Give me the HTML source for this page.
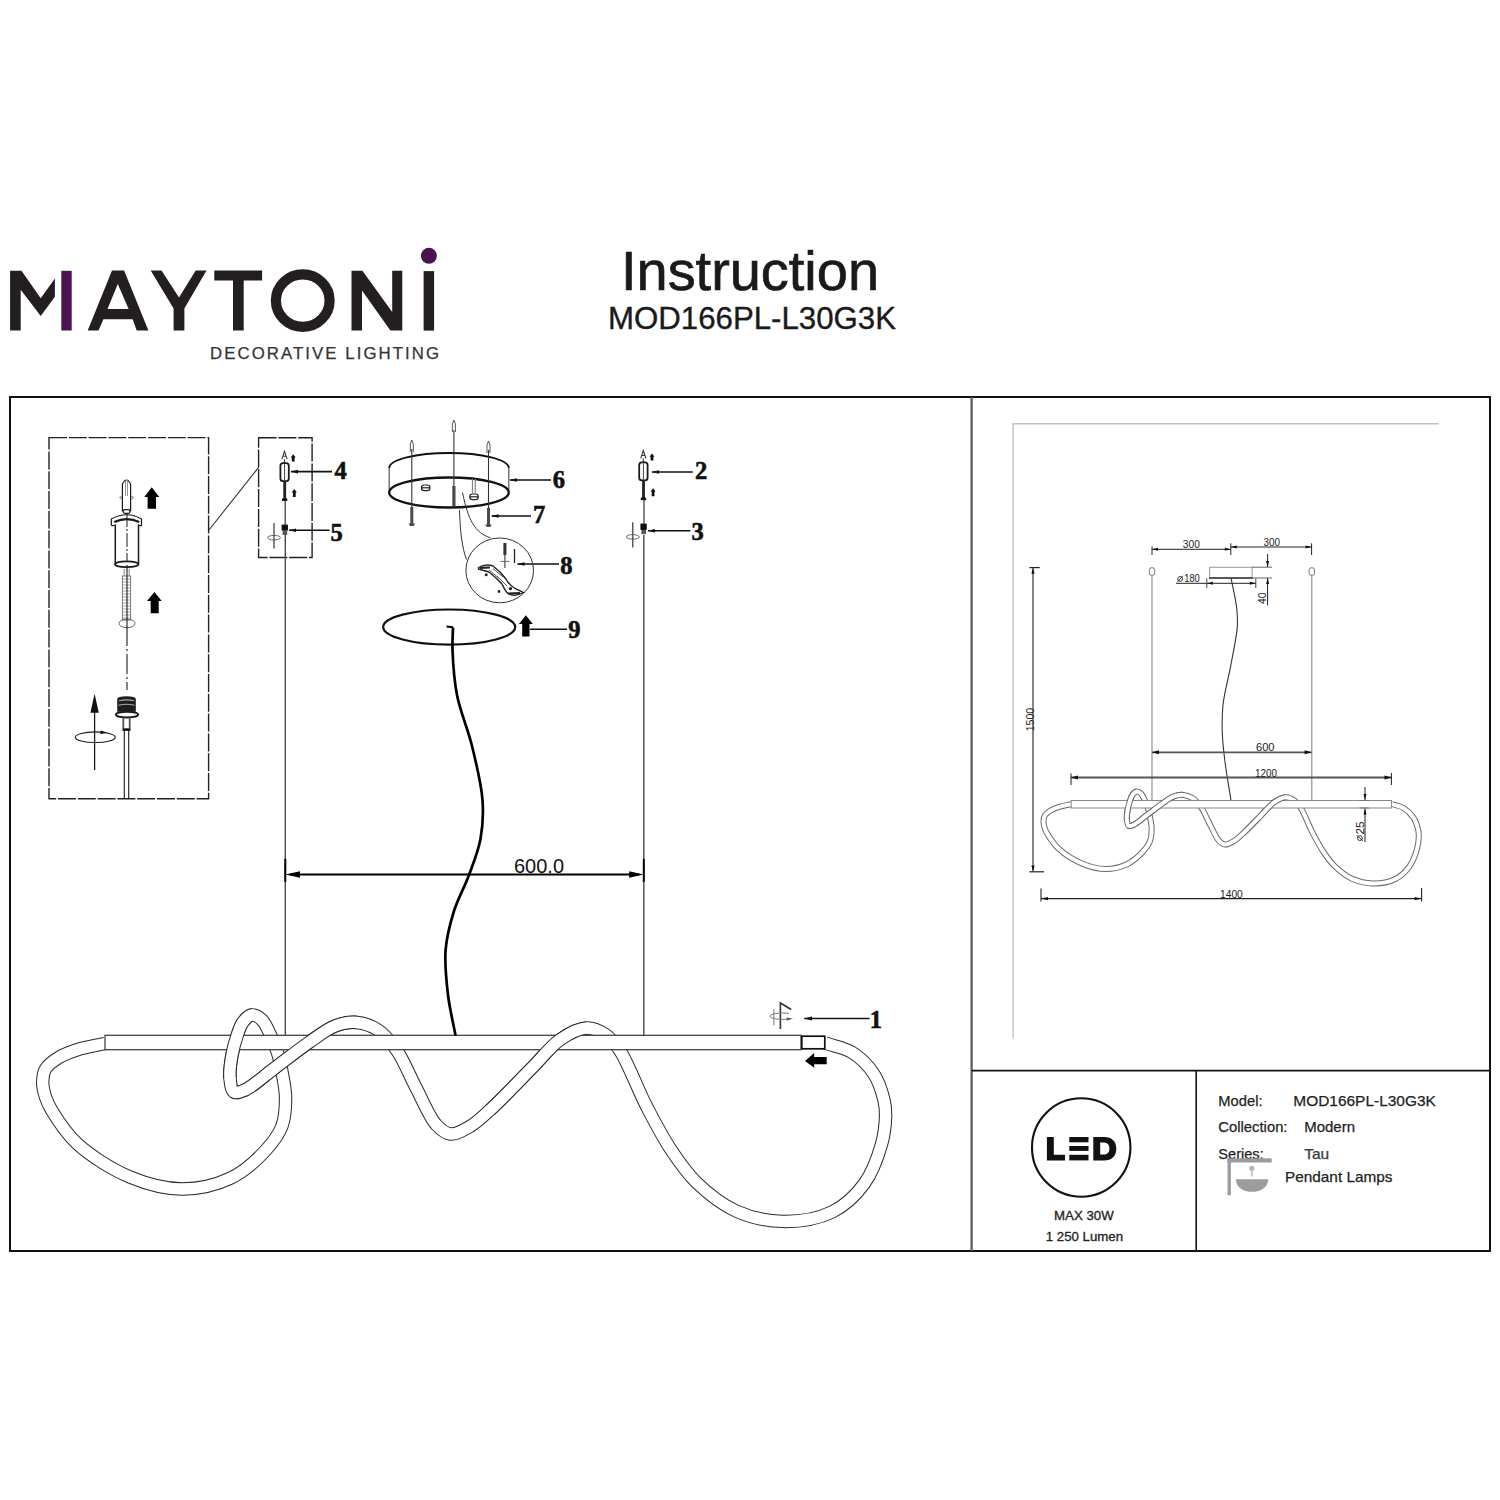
<!DOCTYPE html>
<html><head><meta charset="utf-8"><title>Maytoni MOD166PL-L30G3K Instruction</title>
<style>
html,body{margin:0;padding:0;background:#fff;width:1500px;height:1500px;overflow:hidden}
svg{display:block;position:absolute;left:0;top:0}
text{font-family:"Liberation Sans",sans-serif}
.ser,.ser text{font-family:"Liberation Serif",serif;font-weight:bold}
</style></head>
<body>
<svg width="1500" height="1500" viewBox="0 0 1500 1500">
<defs>
<path id="upArrow" d="M0 -10 L7 -2 L3.5 -2 L3.5 10 L-3.5 10 L-3.5 -2 L-7 -2 Z"/>
</defs>

<!-- ============ HEADER / LOGO ============ -->
<g fill="#231f20">
<polygon points="10.1,270.8 21.5,270.8 40.7,298.3 54.9,278.5 54.9,296.7 40.7,315.9 20.7,289.7 20.7,330.5 10.1,330.5"/>
<polygon points="87.7,330.4 112,270.6 124.1,270.6 148.4,330.4 136.7,330.4 132.7,319.2 103.4,319.2 98.5,330.4"/>
<polygon points="150.7,270.6 161.5,270.6 179,297.6 195.7,270.6 206.5,270.6 184.4,308.4 184.4,330.4 173.6,330.4 173.6,308.4"/>
<polygon points="214.3,270.4 262.1,270.4 262.1,280.5 243.7,280.5 243.7,330.6 233,330.6 233,280.5 214.3,280.5"/>
<polygon points="351.5,270.8 362.4,270.8 392.2,312.1 392.2,270.8 402.3,270.8 402.3,330.6 390.4,330.6 362,290.4 362,330.6 351.5,330.6"/>
<rect x="423.6" y="271.1" width="10.5" height="59.5"/>
</g>
<polygon points="117.8,284 107.5,309 128.6,309" fill="#fff"/>
<ellipse cx="302.75" cy="300.6" rx="26.85" ry="26.2" fill="none" stroke="#231f20" stroke-width="10.2"/>
<rect x="61.3" y="270.8" width="10.4" height="59.7" fill="#4b1450"/>
<circle cx="428.9" cy="255.8" r="8" fill="#4b1450"/>
<text x="210" y="359" font-size="16.8" fill="#333" stroke="#333" stroke-width="0.25" textLength="229" lengthAdjust="spacing">DECORATIVE LIGHTING</text>

<text x="621" y="290" font-size="56" fill="#1a1a1a" stroke="#1a1a1a" stroke-width="0.7" textLength="258" lengthAdjust="spacingAndGlyphs">Instruction</text>
<text x="608" y="329" font-size="31.5" fill="#1a1a1a" stroke="#1a1a1a" stroke-width="0.35" textLength="288" lengthAdjust="spacingAndGlyphs">MOD166PL-L30G3K</text>

<!-- ============ FRAME ============ -->
<rect x="10" y="397" width="1480" height="854" fill="none" stroke="#111" stroke-width="2"/>
<line x1="971.6" y1="397" x2="971.6" y2="1251" stroke="#555" stroke-width="2.2"/>
<line x1="972" y1="1070.6" x2="1490" y2="1070.6" stroke="#111" stroke-width="1.6"/>
<line x1="1196.2" y1="1070.6" x2="1196.2" y2="1251" stroke="#111" stroke-width="1.6"/>
<polyline points="1013.1,1038.5 1013.1,423.8 1439,423.8" fill="none" stroke="#c2c2c2" stroke-width="1.4"/>


<!-- ============ LEFT PANEL ASSEMBLY ============ -->
<g fill="none" stroke="#222" stroke-width="1.4" stroke-dasharray="18 1.8">
<rect x="49" y="437.6" width="159.6" height="361.2"/>
<rect x="258.6" y="437.7" width="53.5" height="119.8"/>
</g>
<line x1="208.6" y1="530.5" x2="258.6" y2="467.3" stroke="#333" stroke-width="1.1"/>

<!-- anchor detail -->
<g fill="none" stroke="#1a1a1a" stroke-width="1.2">
<path d="M122.4 511.5 L122.4 484 Q126.5 476 130.6 484 L130.6 511.5"/>
<path d="M122.4 495.5 L119.6 497.5 L122.4 499.5 M130.6 495.5 L133.6 497.5 L130.6 499.5" stroke="#666" stroke-width="0.9"/>
<path d="M125.5 481 L125.5 496 M127.5 480 L127.5 496" stroke="#888" stroke-width="0.9"/>
<rect x="123.3" y="509.7" width="6.6" height="3.6" rx="1.5"/>
<path d="M111.3 525.5 L111.3 519 Q127 510.5 141.5 519 L141.5 525.5 Q140 526 138.3 525"/>
<path d="M111.3 525.5 Q113 526 114.7 525"/>
<path d="M114.3 522 Q127 516.2 139.2 522" stroke-width="2.2"/>
<path d="M115.3 524.5 L115.3 564.5 M138.5 524.5 L138.5 564.5" stroke-width="1.5"/>
<ellipse cx="126.7" cy="564.3" rx="11.7" ry="2.9" stroke-width="1.8"/>
<path d="M127 513 L127 562" stroke-width="1" stroke-dasharray="14 2 2 2"/>
<path d="M124.2 569 L124.2 576 M129.2 569 L129.2 576" stroke="#777" stroke-width="0.9"/>
<rect x="122.4" y="576" width="8.2" height="44" stroke="#777" stroke-width="1"/>
<path d="M122.4 579h8.2M122.4 582h8.2M122.4 585h8.2M122.4 588h8.2M122.4 591h8.2M122.4 594h8.2M122.4 597h8.2M122.4 600h8.2M122.4 603h8.2M122.4 606h8.2M122.4 609h8.2M122.4 612h8.2M122.4 615h8.2M122.4 618h8.2" stroke="#999" stroke-width="0.9"/>
<ellipse cx="127" cy="623.4" rx="8" ry="4.3" stroke="#666" stroke-width="1"/>
<path d="M127 565 L127 626" stroke-width="1.1"/>
<path d="M127 626 L127 690" stroke-width="1.1" stroke-dasharray="20 3 2 3"/>
<!-- connector -->
<path d="M117.2 711.7 L117.2 699 Q117.5 696.3 126.5 696.3 Q135.5 696.3 135.8 699 L135.8 711.7 Z" fill="#1e1e1e" stroke="none"/>
<path d="M119 700.8 Q126.5 699 134 700.8 M118.5 705.2 Q126.5 703.4 134.5 705.2" stroke="#aaa" stroke-width="1.1"/>
<ellipse cx="127" cy="714.6" rx="11.2" ry="2.9" fill="#fff" stroke-width="1.9"/>
<path d="M123.3 717.5 L123.3 728.5 M129.7 717.5 L129.7 728.5" stroke="#555" stroke-width="1.8"/>
<rect x="122.5" y="728.3" width="8" height="2.6" fill="#111" stroke="none"/>
<path d="M124.3 731 L124.3 799 M128.7 731 L128.7 799" stroke-width="1.1"/>
<!-- rotate arrow -->
<path d="M94.6 712 L94.6 770" stroke-width="1.3"/>
<path d="M94.6 693.8 L98.8 712.7 L90.4 712.7 Z" fill="#111" stroke="none"/>
<ellipse cx="95.3" cy="737.2" rx="20" ry="5.3" stroke-width="1.1"/>
<path d="M100.5 730.4 L107 732.4 L100.5 734.2 Z" fill="#111" stroke="none"/>
</g>
<g fill="#000">
<path d="M151.8 487.3 L159.3 497 L156 497 L156 508.7 L147.6 508.7 L147.6 497 L144.3 497 Z"/>
<path d="M154.4 592 L161.7 601 L158.7 601 L158.7 613.3 L150.7 613.3 L150.7 601 L147 601 Z"/>
</g>


<!-- ============ HANGING KITS 2/3 and 4/5 ============ -->
<g id="kit45">
<path d="M281.9 459.2 L284.5 451.3 L287.1 459.2 M282.9 456.3 L286.1 456.3 M284.5 459.2 L284.5 463" fill="none" stroke="#333" stroke-width="1.1"/>
<rect x="280.4" y="463.2" width="8.4" height="18" rx="2.6" fill="#fff" stroke="#1a1a1a" stroke-width="1.8"/>
<line x1="284.6" y1="464" x2="284.6" y2="481" stroke="#444" stroke-width="1"/>
<rect x="283.3" y="481" width="2.8" height="18" fill="#222"/>
<rect x="282" y="498.4" width="5.3" height="2.6" fill="#111"/>
<line x1="285.2" y1="500" x2="285.2" y2="524.5" stroke="#333" stroke-width="1.2"/>
<rect x="281.6" y="524.4" width="6.4" height="6.4" rx="1" fill="#111"/>
<rect x="282.6" y="530.8" width="4.6" height="4.2" fill="#555"/>
<path d="M293.2 454.2 L295.7 457.6 L294.6 457.6 L294.6 461.4 L291.8 461.4 L291.8 457.6 L290.7 457.6 Z M294.3 489 L296.8 492.4 L295.7 492.4 L295.7 497 L292.9 497 L292.9 492.4 L291.8 492.4 Z" fill="#111"/>
<line x1="274" y1="523" x2="274" y2="548.4" stroke="#222" stroke-width="1.1"/>
<ellipse cx="274" cy="537.7" rx="6.4" ry="2.3" fill="none" stroke="#555" stroke-width="0.9"/>
</g>
<use href="#kit45" transform="translate(358.8 -0.8)"/>

<g stroke="#111" stroke-width="1.6">
<line x1="291" y1="471.6" x2="332" y2="471.6"/>
<line x1="289" y1="530.3" x2="329.6" y2="530.3"/>
<line x1="652" y1="472" x2="692.8" y2="472"/>
<line x1="648" y1="530.8" x2="690.4" y2="530.8"/>
<line x1="510" y1="480" x2="551" y2="480"/>
<line x1="491.7" y1="516" x2="531" y2="516"/>
<line x1="517.4" y1="564" x2="559" y2="564"/>
<line x1="530" y1="629.3" x2="567" y2="629.3"/>
<line x1="804.2" y1="1018.4" x2="869.6" y2="1018.4" stroke-width="1.5"/>
</g>
<g fill="#111">
<path d="M290.5 471.6 L298 469.8 L298 473.4 Z"/>
<path d="M288.5 530.3 L296 528.5 L296 532.1 Z"/>
<path d="M651.5 472 L659 470.2 L659 473.8 Z"/>
<path d="M647.5 530.8 L655 529 L655 532.6 Z"/>
<path d="M509.5 480 L517 478.2 L517 481.8 Z"/>
<path d="M491.2 516 L498.7 514.2 L498.7 517.8 Z"/>
<path d="M517 564 L524.5 562.2 L524.5 565.8 Z"/>
<path d="M804 1018.4 L812 1016.4 L812 1020.4 Z"/>
</g>
<g class="ser" font-size="24.5" fill="#111" stroke="#111" stroke-width="0.6">
<text x="334.5" y="479">4</text>
<text x="330.5" y="541">5</text>
<text x="695" y="479.2">2</text>
<text x="691.5" y="539.6">3</text>
<text x="552.8" y="487.7">6</text>
<text x="533" y="523">7</text>
<text x="560.2" y="573.5">8</text>
<text x="568.2" y="638">9</text>
<text x="869.8" y="1027.6">1</text>
</g>

<!-- ============ CANOPY 6/7/8 ============ -->
<g fill="none" stroke="#111" stroke-width="2">
<path d="M389.2 468 A59.8 15 0 0 1 508.8 468" stroke-width="1.9"/>
<path d="M389.2 468 L389.2 492.5 M508.8 468 L508.8 492.5" stroke="#555" stroke-width="1.2"/>
<ellipse cx="449" cy="492.5" rx="59.8" ry="15" stroke-width="2.3"/>
</g>
<g fill="none" stroke="#333" stroke-width="1.1">
<line x1="411.8" y1="449" x2="411.8" y2="507"/>
<line x1="453.9" y1="430" x2="453.9" y2="488"/>
<line x1="488.5" y1="450" x2="488.5" y2="508"/>
<path d="M410.3 452 L410.3 444 L411.8 440 L413.3 444 L413.3 452 M452.4 432 L452.4 424 L453.9 420 L455.4 424 L455.4 432 M487 453 L487 445 L488.5 441 L490 445 L490 453" stroke="#444" stroke-width="0.9"/>
</g>
<g fill="#4a4a4a">
<rect x="410.3" y="507" width="3" height="17"/>
<rect x="487" y="508" width="3" height="17"/>
<rect x="452.3" y="486" width="3.2" height="20"/>
<path d="M408.5 523.5 h6.6 l-1.5 2.5 h-3.6 Z M485.2 524.5 h6.6 l-1.5 2.5 h-3.6 Z"/>
</g>
<g fill="#fff" stroke="#222" stroke-width="1.2">
<rect x="421.5" y="485" width="8.4" height="5.6" rx="2.6"/>
<line x1="421.5" y1="487.8" x2="429.9" y2="487.8"/>
<rect x="469.8" y="494" width="8.4" height="5.6" rx="2.6"/>
<line x1="469.8" y1="496.8" x2="478.2" y2="496.8"/>
<line x1="472.5" y1="479" x2="472.5" y2="494" stroke="#888"/>
<line x1="475.3" y1="479" x2="475.3" y2="494" stroke="#888"/>
</g>
<g fill="none" stroke="#333" stroke-width="1">
<path d="M462.5 492.5 C468 520 475 533 490.5 537.8"/>
<path d="M459.5 510 C460 530 462 548 466.5 559.5"/>
<ellipse cx="499.7" cy="570.4" rx="33.8" ry="32.4"/>
</g>
<!-- clip detail in circle 8 -->
<g fill="none" stroke="#222" stroke-width="1.2">
<rect x="503.4" y="543" width="3" height="12" fill="#333" stroke="none"/>
<path d="M504.9 555 L504.9 568" stroke="#555" stroke-width="1.3"/>
<path d="M500.5 561.4 L509.2 561.4" stroke="#666" stroke-width="1"/>
<path d="M514.5 549 L514.5 563" stroke-width="1.3"/>
<path d="M478.5 567.5 C483 565 489 564.5 493 566 L500 572 L506 579 C508 583 511 586 515 588.5 L523.5 592.5 C518 595.5 512 595.8 508 593.5 C505 591 503.5 587 502 584 L496 578 L489 572 C485 570.5 481 570 478.5 569 Z" stroke-width="1.4"/>
<path d="M480 567.8 L490 567.5" stroke-width="2.2"/>
<path d="M489 570 L500 579 M493 568.5 L503 577 M497 576 L507 586" stroke="#555" stroke-width="1"/>
<path d="M508 593.5 L520 593" stroke-width="2"/>
<circle cx="510.5" cy="588.6" r="1" fill="#222"/>
<circle cx="499" cy="591.5" r="0.8" fill="#222"/>
<circle cx="486.2" cy="574.8" r="0.9" fill="#222"/>
</g>
<!-- ============ RING 9 ============ -->
<ellipse cx="449.2" cy="627.1" rx="66" ry="17.6" fill="none" stroke="#111" stroke-width="2.2"/>
<path d="M525.9 615.3 L532.8 624 L529.5 624 L529.5 636.6 L522.2 636.6 L522.2 624 L518.9 624 Z" fill="#000"/>

<!-- ============ MAIN LAMP ============ -->
<g fill="none">
<path d="M105 1043.5C96 1045.5 86.2 1046.9 78 1049.5C70.7 1051.8 63.7 1054.4 58 1058C53.1 1061.1 48 1064.7 45.5 1069C43.2 1072.8 42.8 1077.5 42.7 1082C42.6 1086.8 44 1092.3 45.5 1097C47 1101.6 48.4 1104.9 51.5 1110C56.8 1118.8 65.8 1133.2 77 1143.5C90.7 1156 111.8 1169.4 130 1177C146.8 1184 165 1188.9 182 1189C198.3 1189.1 215.9 1185 230 1178.4C243.4 1172.1 256 1160.7 265 1151C272.5 1143 278.6 1135 282 1126C285.3 1117.3 285.6 1107.2 285.6 1098C285.6 1089.2 283.5 1080 282 1072C280.7 1065.1 279.6 1059.3 277.6 1053C275.6 1046.6 272.8 1039.8 270 1034C267.5 1028.9 265.4 1023.2 262 1020C259.2 1017.3 255.2 1014.7 252 1015C248.8 1015.3 245.4 1018.9 243 1022C240.2 1025.6 238.8 1030.9 237 1036C235 1041.8 233.2 1048.3 232 1055C230.7 1062.2 229.4 1071.3 230 1078C230.5 1083.3 231.1 1090.2 234 1092C236.5 1093.6 240.7 1091.8 245 1090" stroke="#2a2a2a" stroke-width="13.4"/><path d="M105 1043.5C96 1045.5 86.2 1046.9 78 1049.5C70.7 1051.8 63.7 1054.4 58 1058C53.1 1061.1 48 1064.7 45.5 1069C43.2 1072.8 42.8 1077.5 42.7 1082C42.6 1086.8 44 1092.3 45.5 1097C47 1101.6 48.4 1104.9 51.5 1110C56.8 1118.8 65.8 1133.2 77 1143.5C90.7 1156 111.8 1169.4 130 1177C146.8 1184 165 1188.9 182 1189C198.3 1189.1 215.9 1185 230 1178.4C243.4 1172.1 256 1160.7 265 1151C272.5 1143 278.6 1135 282 1126C285.3 1117.3 285.6 1107.2 285.6 1098C285.6 1089.2 283.5 1080 282 1072C280.7 1065.1 279.6 1059.3 277.6 1053C275.6 1046.6 272.8 1039.8 270 1034C267.5 1028.9 265.4 1023.2 262 1020C259.2 1017.3 255.2 1014.7 252 1015C248.8 1015.3 245.4 1018.9 243 1022C240.2 1025.6 238.8 1030.9 237 1036C235 1041.8 233.2 1048.3 232 1055C230.7 1062.2 229.4 1071.3 230 1078C230.5 1083.3 231.1 1090.2 234 1092C236.5 1093.6 240.7 1091.8 245 1090" stroke="#fff" stroke-width="11.4" stroke-linecap="round"/><path d="M245 1090C252.7 1086.7 263.9 1076.1 274 1068.6C285.1 1060.3 298.1 1049.9 309 1042.4C318.2 1036.1 326.4 1029.3 335 1026C342.4 1023.2 349.8 1021.8 357 1022.5C364.2 1023.2 371.6 1025.8 378 1030C385.1 1034.7 391.1 1042.3 397 1050.7C404.2 1061.1 409.9 1076.2 416.5 1088.7C423 1101 429.4 1117.4 436.5 1125C441 1129.8 445.3 1133.5 450.5 1134C456.3 1134.6 463.7 1130.1 470 1126.4C477 1122.3 482.3 1117 490 1110C501.9 1099.2 520.6 1079.3 533.3 1066.5C543.3 1056.5 550.4 1046.2 560 1039.7C568.5 1033.9 578.7 1028.2 587 1028C593.8 1027.8 600.5 1031.3 606 1035C611.6 1038.8 615.1 1043.4 620 1050.7C628.3 1063.2 637.7 1089.4 646.7 1106.7C654.7 1122 662.1 1136.3 670.7 1149.3C678.6 1161.2 685.8 1172.1 696 1182C707.2 1192.8 721.4 1204.4 736 1211C750.3 1217.4 766.6 1221.1 782.4 1221.4C798.6 1221.7 818 1218.8 832 1212C844.8 1205.8 855.8 1195.2 864 1184C872.4 1172.6 878.1 1156.4 881.6 1144C884.4 1134 885.4 1124 885.6 1116C885.7 1109.9 885.4 1105.9 884 1100C882.1 1092.2 878.8 1081.4 873.6 1073.6C868.2 1065.5 860.2 1057.5 852 1052.4C844 1047.4 834 1046.1 825 1043" stroke="#2a2a2a" stroke-width="13.4"/><path d="M245 1090C252.7 1086.7 263.9 1076.1 274 1068.6C285.1 1060.3 298.1 1049.9 309 1042.4C318.2 1036.1 326.4 1029.3 335 1026C342.4 1023.2 349.8 1021.8 357 1022.5C364.2 1023.2 371.6 1025.8 378 1030C385.1 1034.7 391.1 1042.3 397 1050.7C404.2 1061.1 409.9 1076.2 416.5 1088.7C423 1101 429.4 1117.4 436.5 1125C441 1129.8 445.3 1133.5 450.5 1134C456.3 1134.6 463.7 1130.1 470 1126.4C477 1122.3 482.3 1117 490 1110C501.9 1099.2 520.6 1079.3 533.3 1066.5C543.3 1056.5 550.4 1046.2 560 1039.7C568.5 1033.9 578.7 1028.2 587 1028C593.8 1027.8 600.5 1031.3 606 1035C611.6 1038.8 615.1 1043.4 620 1050.7C628.3 1063.2 637.7 1089.4 646.7 1106.7C654.7 1122 662.1 1136.3 670.7 1149.3C678.6 1161.2 685.8 1172.1 696 1182C707.2 1192.8 721.4 1204.4 736 1211C750.3 1217.4 766.6 1221.1 782.4 1221.4C798.6 1221.7 818 1218.8 832 1212C844.8 1205.8 855.8 1195.2 864 1184C872.4 1172.6 878.1 1156.4 881.6 1144C884.4 1134 885.4 1124 885.6 1116C885.7 1109.9 885.4 1105.9 884 1100C882.1 1092.2 878.8 1081.4 873.6 1073.6C868.2 1065.5 860.2 1057.5 852 1052.4C844 1047.4 834 1046.1 825 1043" stroke="#fff" stroke-width="11.4" stroke-linecap="round"/><rect x="105" y="1035.3" width="696" height="14.4" fill="#fff" stroke="#444" stroke-width="1.3"/><path d="M252 1015C248.8 1015.3 245.4 1018.9 243 1022C240.2 1025.6 238.8 1030.9 237 1036C235 1041.8 233.2 1048.3 232 1055C230.7 1062.2 229.4 1071.3 230 1078" stroke="#2a2a2a" stroke-width="13.4"/><path d="M252 1015C248.8 1015.3 245.4 1018.9 243 1022C240.2 1025.6 238.8 1030.9 237 1036C235 1041.8 233.2 1048.3 232 1055C230.7 1062.2 229.4 1071.3 230 1078" stroke="#fff" stroke-width="11.4" stroke-linecap="round"/><path d="M234 1092C236.5 1093.6 240.7 1091.8 245 1090C252.7 1086.7 263.9 1076.1 274 1068.6C285.1 1060.3 298.1 1049.9 309 1042.4C318.2 1036.1 326.4 1029.3 335 1026C342.4 1023.2 349.8 1021.8 357 1022.5" stroke="#2a2a2a" stroke-width="13.4"/><path d="M234 1092C236.5 1093.6 240.7 1091.8 245 1090C252.7 1086.7 263.9 1076.1 274 1068.6C285.1 1060.3 298.1 1049.9 309 1042.4C318.2 1036.1 326.4 1029.3 335 1026C342.4 1023.2 349.8 1021.8 357 1022.5" stroke="#fff" stroke-width="11.4" stroke-linecap="round"/><path d="M490 1110C501.9 1099.2 520.6 1079.3 533.3 1066.5C543.3 1056.5 550.4 1046.2 560 1039.7C568.5 1033.9 578.7 1028.2 587 1028" stroke="#2a2a2a" stroke-width="13.4"/><path d="M490 1110C501.9 1099.2 520.6 1079.3 533.3 1066.5C543.3 1056.5 550.4 1046.2 560 1039.7C568.5 1033.9 578.7 1028.2 587 1028" stroke="#fff" stroke-width="11.4" stroke-linecap="round"/><rect x="801.8" y="1036.2" width="23" height="12.6" fill="#fff" stroke="#111" stroke-width="1.7"/>
</g>



<!-- ============ RIGHT PANEL: DIMENSION DRAWING ============ -->
<g stroke="#888" stroke-width="1.1">
<line x1="1152" y1="575" x2="1152" y2="800.5"/>
<line x1="1311.8" y1="575" x2="1311.8" y2="800.5"/>
</g>
<g fill="#fff" stroke="#777" stroke-width="1">
<rect x="1149.3" y="567.8" width="5.4" height="7.4" rx="2"/>
<rect x="1309.1" y="567.8" width="5.4" height="7.4" rx="2"/>
</g>
<!-- small canopy -->
<rect x="1209.6" y="567.3" width="42.5" height="10.7" fill="#fff" stroke="#999" stroke-width="1"/>
<line x1="1209" y1="578" x2="1253" y2="578" stroke="#333" stroke-width="1.4"/>
<path d="M1231 578C1232.9 587.8 1235.6 598.5 1236.6 607.3C1237.4 614.4 1237.8 619.1 1237.3 626.6C1236.6 637.3 1233.2 652.4 1230.8 665.3C1228.4 678.2 1224.5 692 1223.1 704C1221.9 714.3 1222 723.3 1222.3 733C1222.6 742.7 1223.7 751.7 1225 762C1226.5 773.9 1229 787.7 1231 800.5" fill="none" stroke="#333" stroke-width="1.1"/>
<g transform="translate(1024.44 339.58) scale(0.4453)" fill="none"><path d="M105 1043.5C96 1045.5 86.2 1046.9 78 1049.5C70.7 1051.8 63.7 1054.4 58 1058C53.1 1061.1 48 1064.7 45.5 1069C43.2 1072.8 42.8 1077.5 42.7 1082C42.6 1086.8 44 1092.3 45.5 1097C47 1101.6 48.4 1104.9 51.5 1110C56.8 1118.8 65.8 1133.2 77 1143.5C90.7 1156 111.8 1169.4 130 1177C146.8 1184 165 1188.9 182 1189C198.3 1189.1 215.9 1185 230 1178.4C243.4 1172.1 256 1160.7 265 1151C272.5 1143 278.6 1135 282 1126C285.3 1117.3 285.6 1107.2 285.6 1098C285.6 1089.2 283.5 1080 282 1072C280.7 1065.1 279.6 1059.3 277.6 1053C275.6 1046.6 272.8 1039.8 270 1034C267.5 1028.9 265.4 1023.2 262 1020C259.2 1017.3 255.2 1014.7 252 1015C248.8 1015.3 245.4 1018.9 243 1022C240.2 1025.6 238.8 1030.9 237 1036C235 1041.8 233.2 1048.3 232 1055C230.7 1062.2 229.4 1071.3 230 1078C230.5 1083.3 231.1 1090.2 234 1092C236.5 1093.6 240.7 1091.8 245 1090" stroke="#6a6a6a" stroke-width="13.474062429822592"/><path d="M105 1043.5C96 1045.5 86.2 1046.9 78 1049.5C70.7 1051.8 63.7 1054.4 58 1058C53.1 1061.1 48 1064.7 45.5 1069C43.2 1072.8 42.8 1077.5 42.7 1082C42.6 1086.8 44 1092.3 45.5 1097C47 1101.6 48.4 1104.9 51.5 1110C56.8 1118.8 65.8 1133.2 77 1143.5C90.7 1156 111.8 1169.4 130 1177C146.8 1184 165 1188.9 182 1189C198.3 1189.1 215.9 1185 230 1178.4C243.4 1172.1 256 1160.7 265 1151C272.5 1143 278.6 1135 282 1126C285.3 1117.3 285.6 1107.2 285.6 1098C285.6 1089.2 283.5 1080 282 1072C280.7 1065.1 279.6 1059.3 277.6 1053C275.6 1046.6 272.8 1039.8 270 1034C267.5 1028.9 265.4 1023.2 262 1020C259.2 1017.3 255.2 1014.7 252 1015C248.8 1015.3 245.4 1018.9 243 1022C240.2 1025.6 238.8 1030.9 237 1036C235 1041.8 233.2 1048.3 232 1055C230.7 1062.2 229.4 1071.3 230 1078C230.5 1083.3 231.1 1090.2 234 1092C236.5 1093.6 240.7 1091.8 245 1090" stroke="#fff" stroke-width="8.982708286548394" stroke-linecap="round"/><path d="M245 1090C252.7 1086.7 263.9 1076.1 274 1068.6C285.1 1060.3 298.1 1049.9 309 1042.4C318.2 1036.1 326.4 1029.3 335 1026C342.4 1023.2 349.8 1021.8 357 1022.5C364.2 1023.2 371.6 1025.8 378 1030C385.1 1034.7 391.1 1042.3 397 1050.7C404.2 1061.1 409.9 1076.2 416.5 1088.7C423 1101 429.4 1117.4 436.5 1125C441 1129.8 445.3 1133.5 450.5 1134C456.3 1134.6 463.7 1130.1 470 1126.4C477 1122.3 482.3 1117 490 1110C501.9 1099.2 520.6 1079.3 533.3 1066.5C543.3 1056.5 550.4 1046.2 560 1039.7C568.5 1033.9 578.7 1028.2 587 1028C593.8 1027.8 600.5 1031.3 606 1035C611.6 1038.8 615.1 1043.4 620 1050.7C628.3 1063.2 637.7 1089.4 646.7 1106.7C654.7 1122 662.1 1136.3 670.7 1149.3C678.6 1161.2 685.8 1172.1 696 1182C707.2 1192.8 721.4 1204.4 736 1211C750.3 1217.4 766.6 1221.1 782.4 1221.4C798.6 1221.7 818 1218.8 832 1212C844.8 1205.8 855.8 1195.2 864 1184C872.4 1172.6 878.1 1156.4 881.6 1144C884.4 1134 885.4 1124 885.6 1116C885.7 1109.9 885.4 1105.9 884 1100C882.1 1092.2 878.8 1081.4 873.6 1073.6C868.2 1065.5 860.2 1057.5 852 1052.4C844 1047.4 834 1046.1 825 1043" stroke="#6a6a6a" stroke-width="13.474062429822592"/><path d="M245 1090C252.7 1086.7 263.9 1076.1 274 1068.6C285.1 1060.3 298.1 1049.9 309 1042.4C318.2 1036.1 326.4 1029.3 335 1026C342.4 1023.2 349.8 1021.8 357 1022.5C364.2 1023.2 371.6 1025.8 378 1030C385.1 1034.7 391.1 1042.3 397 1050.7C404.2 1061.1 409.9 1076.2 416.5 1088.7C423 1101 429.4 1117.4 436.5 1125C441 1129.8 445.3 1133.5 450.5 1134C456.3 1134.6 463.7 1130.1 470 1126.4C477 1122.3 482.3 1117 490 1110C501.9 1099.2 520.6 1079.3 533.3 1066.5C543.3 1056.5 550.4 1046.2 560 1039.7C568.5 1033.9 578.7 1028.2 587 1028C593.8 1027.8 600.5 1031.3 606 1035C611.6 1038.8 615.1 1043.4 620 1050.7C628.3 1063.2 637.7 1089.4 646.7 1106.7C654.7 1122 662.1 1136.3 670.7 1149.3C678.6 1161.2 685.8 1172.1 696 1182C707.2 1192.8 721.4 1204.4 736 1211C750.3 1217.4 766.6 1221.1 782.4 1221.4C798.6 1221.7 818 1218.8 832 1212C844.8 1205.8 855.8 1195.2 864 1184C872.4 1172.6 878.1 1156.4 881.6 1144C884.4 1134 885.4 1124 885.6 1116C885.7 1109.9 885.4 1105.9 884 1100C882.1 1092.2 878.8 1081.4 873.6 1073.6C868.2 1065.5 860.2 1057.5 852 1052.4C844 1047.4 834 1046.1 825 1043" stroke="#fff" stroke-width="8.982708286548394" stroke-linecap="round"/></g><rect x="1071.2" y="800.5" width="320.3" height="7.5" fill="#fff" stroke="#888" stroke-width="1"/><g transform="translate(1024.44 339.58) scale(0.4453)" fill="none"><path d="M252 1015C248.8 1015.3 245.4 1018.9 243 1022C240.2 1025.6 238.8 1030.9 237 1036C235 1041.8 233.2 1048.3 232 1055C230.7 1062.2 229.4 1071.3 230 1078" stroke="#6a6a6a" stroke-width="13.474062429822592"/><path d="M252 1015C248.8 1015.3 245.4 1018.9 243 1022C240.2 1025.6 238.8 1030.9 237 1036C235 1041.8 233.2 1048.3 232 1055C230.7 1062.2 229.4 1071.3 230 1078" stroke="#fff" stroke-width="8.982708286548394" stroke-linecap="round"/><path d="M234 1092C236.5 1093.6 240.7 1091.8 245 1090C252.7 1086.7 263.9 1076.1 274 1068.6C285.1 1060.3 298.1 1049.9 309 1042.4C318.2 1036.1 326.4 1029.3 335 1026C342.4 1023.2 349.8 1021.8 357 1022.5" stroke="#6a6a6a" stroke-width="13.474062429822592"/><path d="M234 1092C236.5 1093.6 240.7 1091.8 245 1090C252.7 1086.7 263.9 1076.1 274 1068.6C285.1 1060.3 298.1 1049.9 309 1042.4C318.2 1036.1 326.4 1029.3 335 1026C342.4 1023.2 349.8 1021.8 357 1022.5" stroke="#fff" stroke-width="8.982708286548394" stroke-linecap="round"/><path d="M490 1110C501.9 1099.2 520.6 1079.3 533.3 1066.5C543.3 1056.5 550.4 1046.2 560 1039.7C568.5 1033.9 578.7 1028.2 587 1028" stroke="#6a6a6a" stroke-width="13.474062429822592"/><path d="M490 1110C501.9 1099.2 520.6 1079.3 533.3 1066.5C543.3 1056.5 550.4 1046.2 560 1039.7C568.5 1033.9 578.7 1028.2 587 1028" stroke="#fff" stroke-width="8.982708286548394" stroke-linecap="round"/></g>
<g stroke="#222" stroke-width="1" fill="none">
<!-- 300 / 300 -->
<line x1="1152" y1="549.3" x2="1230.8" y2="549.3"/>
<line x1="1152" y1="546.5" x2="1152" y2="555"/>
<line x1="1230.8" y1="543.3" x2="1230.8" y2="555"/>
<line x1="1230.8" y1="547" x2="1311.6" y2="547"/>
<line x1="1311.6" y1="543.3" x2="1311.6" y2="555"/>
<!-- 40 -->
<line x1="1252" y1="567.2" x2="1272" y2="567.2" stroke="#666"/>
<line x1="1252" y1="578" x2="1272" y2="578" stroke="#666"/>
<line x1="1267.6" y1="554" x2="1267.6" y2="567"/>
<line x1="1267.6" y1="578" x2="1267.6" y2="605.4"/>
<!-- 180 -->
<line x1="1176" y1="583.3" x2="1256" y2="583.3"/>
<line x1="1206.8" y1="578.5" x2="1206.8" y2="588" stroke="#444"/>
<line x1="1255.8" y1="578.5" x2="1255.8" y2="588" stroke="#444"/>
<!-- 1500 -->
<line x1="1033" y1="567.5" x2="1033" y2="871.5" stroke-width="1.1"/>
<line x1="1029.5" y1="567.6" x2="1039.7" y2="567.6" stroke-width="1.2"/>
<line x1="1029.3" y1="871.8" x2="1044" y2="871.8" stroke-width="1.2"/>
<!-- 600 -->
<line x1="1152" y1="752.3" x2="1311.6" y2="752.3" stroke="#555" stroke-width="1.8"/>
<!-- 1200 -->
<line x1="1071" y1="777.5" x2="1391.4" y2="777.5" stroke="#555" stroke-width="1.8"/>
<line x1="1071" y1="773.5" x2="1071" y2="785"/>
<line x1="1391.4" y1="773" x2="1391.4" y2="785"/>
<!-- 25 -->
<line x1="1365" y1="787" x2="1365" y2="800"/>
<line x1="1365" y1="808.5" x2="1365" y2="842"/>
<line x1="1359.5" y1="800.5" x2="1369" y2="800.5" stroke="#777"/>
<line x1="1359.5" y1="808" x2="1369" y2="808" stroke="#777"/>
<!-- diameter symbols -->
<circle cx="1180.1" cy="578.9" r="2.4" stroke-width="0.9"/>
<line x1="1177.4" y1="582" x2="1182.9" y2="575.8" stroke-width="0.9"/>
<circle cx="1359.9" cy="838.1" r="2.4" stroke-width="0.9"/>
<line x1="1356.8" y1="835.4" x2="1363" y2="840.8" stroke-width="0.9"/>
<!-- 1400 -->
<line x1="1041" y1="898.6" x2="1421.6" y2="898.6" stroke-width="1.3"/>
<line x1="1041" y1="888.5" x2="1041" y2="901.5" stroke-width="1.1"/>
<line x1="1421.6" y1="888" x2="1421.6" y2="901.5" stroke-width="1.1"/>
</g>
<g fill="#111">
<path d="M1152 549.3 l6 -1.5 v3 Z M1230.8 549.3 l-6 -1.5 v3 Z M1230.8 547 l6 -1.5 v3 Z M1311.6 547 l-6 -1.5 v3 Z"/>
<path d="M1267.6 567 l-1.5 -6 h3 Z M1267.6 578 l-1.5 6 h3 Z"/>
<path d="M1206.8 583.3 l6 -1.5 v3 Z M1255.8 583.3 l-6 -1.5 v3 Z"/>
<path d="M1033 567.8 l-1.6 6 h3.2 Z M1033 871.5 l-1.6 -6 h3.2 Z"/>
<path d="M1152 752.3 l7 -2 v4 Z M1311.6 752.3 l-7 -2 v4 Z"/>
<path d="M1071 777.5 l7 -2 v4 Z M1391.4 777.5 l-7 -2 v4 Z"/>
<path d="M1365 800 l-1.5 -6 h3 Z M1365 808.5 l-1.5 6 h3 Z"/>
<path d="M1041 898.6 l7 -1.7 v3.4 Z M1421.6 898.6 l-7 -1.7 v3.4 Z"/>
</g>
<g font-size="10" fill="#222">
<text x="1182.8" y="548.4" textLength="17" lengthAdjust="spacingAndGlyphs">300</text>
<text x="1263.6" y="545.9" textLength="16.5" lengthAdjust="spacingAndGlyphs">300</text>
<text x="1184.2" y="581.8" textLength="15.6" lengthAdjust="spacingAndGlyphs">180</text>
<text x="1256" y="751.2" font-size="11" textLength="18.5" lengthAdjust="spacingAndGlyphs">600</text>
<text x="1255" y="777" font-size="11" textLength="22" lengthAdjust="spacingAndGlyphs">1200</text>
<text x="1220" y="897.8" font-size="11" textLength="22.8" lengthAdjust="spacingAndGlyphs">1400</text>
<text transform="translate(1033.6 731.3) rotate(-90)" font-size="11" textLength="23.4" lengthAdjust="spacingAndGlyphs">1500</text>
<text transform="translate(1266.4 604) rotate(-90)" textLength="11.4" lengthAdjust="spacingAndGlyphs">40</text>
<text transform="translate(1363.5 834.4) rotate(-90)" textLength="13" lengthAdjust="spacingAndGlyphs">25</text>
</g>


<!-- ============ BOTTOM TABLE ============ -->
<circle cx="1081.2" cy="1147.5" r="49.2" fill="none" stroke="#111" stroke-width="2.1"/>
<g fill="#111">
<path d="M1046.9 1137 H1053.8 V1154.8 H1065 V1160.4 H1046.9 Z"/>
<rect x="1069.3" y="1137" width="19.2" height="5.3"/>
<rect x="1069.3" y="1146" width="19.2" height="4.9"/>
<rect x="1069.3" y="1154.8" width="19.2" height="5.6"/>
<path d="M1093.3 1137 H1104 C1112 1137 1116.3 1141.5 1116.3 1148.7 C1116.3 1156 1112 1160.4 1104 1160.4 H1093.3 Z M1100.2 1142.6 V1154.6 H1103.3 C1107.3 1154.6 1109.4 1152.6 1109.4 1148.6 C1109.4 1144.6 1107.3 1142.6 1103.3 1142.6 Z" fill-rule="evenodd"/>
</g>
<g font-size="12.8" fill="#222" stroke="#222" stroke-width="0.3">
<text x="1054" y="1220" textLength="59.7" lengthAdjust="spacingAndGlyphs">MAX 30W</text>
<text x="1045.8" y="1240.8" textLength="77.2" lengthAdjust="spacingAndGlyphs">1 250 Lumen</text>
</g>
<g font-size="15" fill="#1e1e1e" stroke="#1e1e1e" stroke-width="0.25">
<text x="1218.3" y="1105.5" textLength="44.2" lengthAdjust="spacingAndGlyphs">Model:</text>
<text x="1293.3" y="1105.5" textLength="142.5" lengthAdjust="spacingAndGlyphs">MOD166PL-L30G3K</text>
<text x="1218.3" y="1132" textLength="69.2" lengthAdjust="spacingAndGlyphs">Collection:</text>
<text x="1304.2" y="1132" textLength="50.8" lengthAdjust="spacingAndGlyphs">Modern</text>
<text x="1218.3" y="1158.7" textLength="45.4" lengthAdjust="spacingAndGlyphs">Series:</text>
<text x="1304.2" y="1158.7" textLength="25" lengthAdjust="spacingAndGlyphs" fill="#444">Tau</text>
<text x="1285" y="1181.7" textLength="107.5" lengthAdjust="spacingAndGlyphs">Pendant Lamps</text>
</g>
<g fill="#9c9c9c">
<rect x="1227.5" y="1158.3" width="44.2" height="4.2"/>
<rect x="1227.5" y="1158.3" width="3.4" height="36.8"/>
<circle cx="1251.8" cy="1168.3" r="2.6" fill="#b5b5b5"/>
<rect x="1251" y="1170.5" width="1.6" height="6" fill="#c0c0c0"/>
<path d="M1235.8 1179.2 H1268.3 C1268 1187 1261 1191.8 1252 1191.8 C1243 1191.8 1236 1187 1235.8 1179.2 Z"/>
</g>

<!-- wires, cable, dims -->
<g stroke="#4a4a4a" stroke-width="1.4">
<line x1="285.3" y1="535" x2="285.3" y2="1035.5"/>
<line x1="643.8" y1="535" x2="643.8" y2="1035.5"/>
</g>
<path d="M453 627.5C452.8 635 452.2 641.2 452.5 650C453 662.4 454 679.7 457 695C460.2 711.6 467.8 728.7 472 746C476.3 763.6 481.3 783.4 482.5 800C483.5 814 482.8 826.4 480.5 839C478.2 851.4 473.4 863.1 469 875C464.6 887.1 457.9 898.6 454 911C450.1 923.6 446.7 936.5 445.6 950C444.5 964.4 446.3 980.4 448 995C449.7 1008.9 453 1022 455.5 1035.5" fill="none" stroke="#000" stroke-width="2.7"/>
<path d="M446.5 626.6 L453 627.3" stroke="#000" stroke-width="2"/>
<g stroke="#000">
<line x1="285.3" y1="858.9" x2="285.3" y2="881.8" stroke-width="2"/>
<line x1="643.8" y1="858.9" x2="643.8" y2="881.8" stroke-width="2"/>
<line x1="290" y1="874.5" x2="639" y2="874.5" stroke-width="1.9"/>
</g>
<path d="M285.5 874.5 L300 871.2 L300 877.8 Z M643.6 874.5 L629.2 871.2 L629.2 877.8 Z" fill="#000"/>
<text x="514" y="872.5" font-size="20.5" fill="#111" textLength="50" lengthAdjust="spacingAndGlyphs">600.0</text>

<!-- item 1 symbol -->
<g fill="none" stroke="#444" stroke-width="1.2">
<path d="M780.4 1029 L780.4 1003 L791.2 1009.5" stroke="#333" stroke-width="1.6"/>
<line x1="773.9" y1="1009.3" x2="773.9" y2="1025.3" stroke="#777" stroke-width="1"/>
<path d="M789 1013.4 A12.8 3.2 0 1 0 787.5 1019.2" stroke="#777" stroke-width="1"/>
<path d="M786.5 1017.6 L793 1018.8 L786.8 1020.6 Z" fill="#555" stroke="none"/>
</g>
<path d="M805 1060.9 L814.2 1053 L814.2 1057 L826.7 1057 L826.7 1064.3 L814.2 1064.3 L814.2 1067.8 Z" fill="#000"/>

</svg>
</body></html>
